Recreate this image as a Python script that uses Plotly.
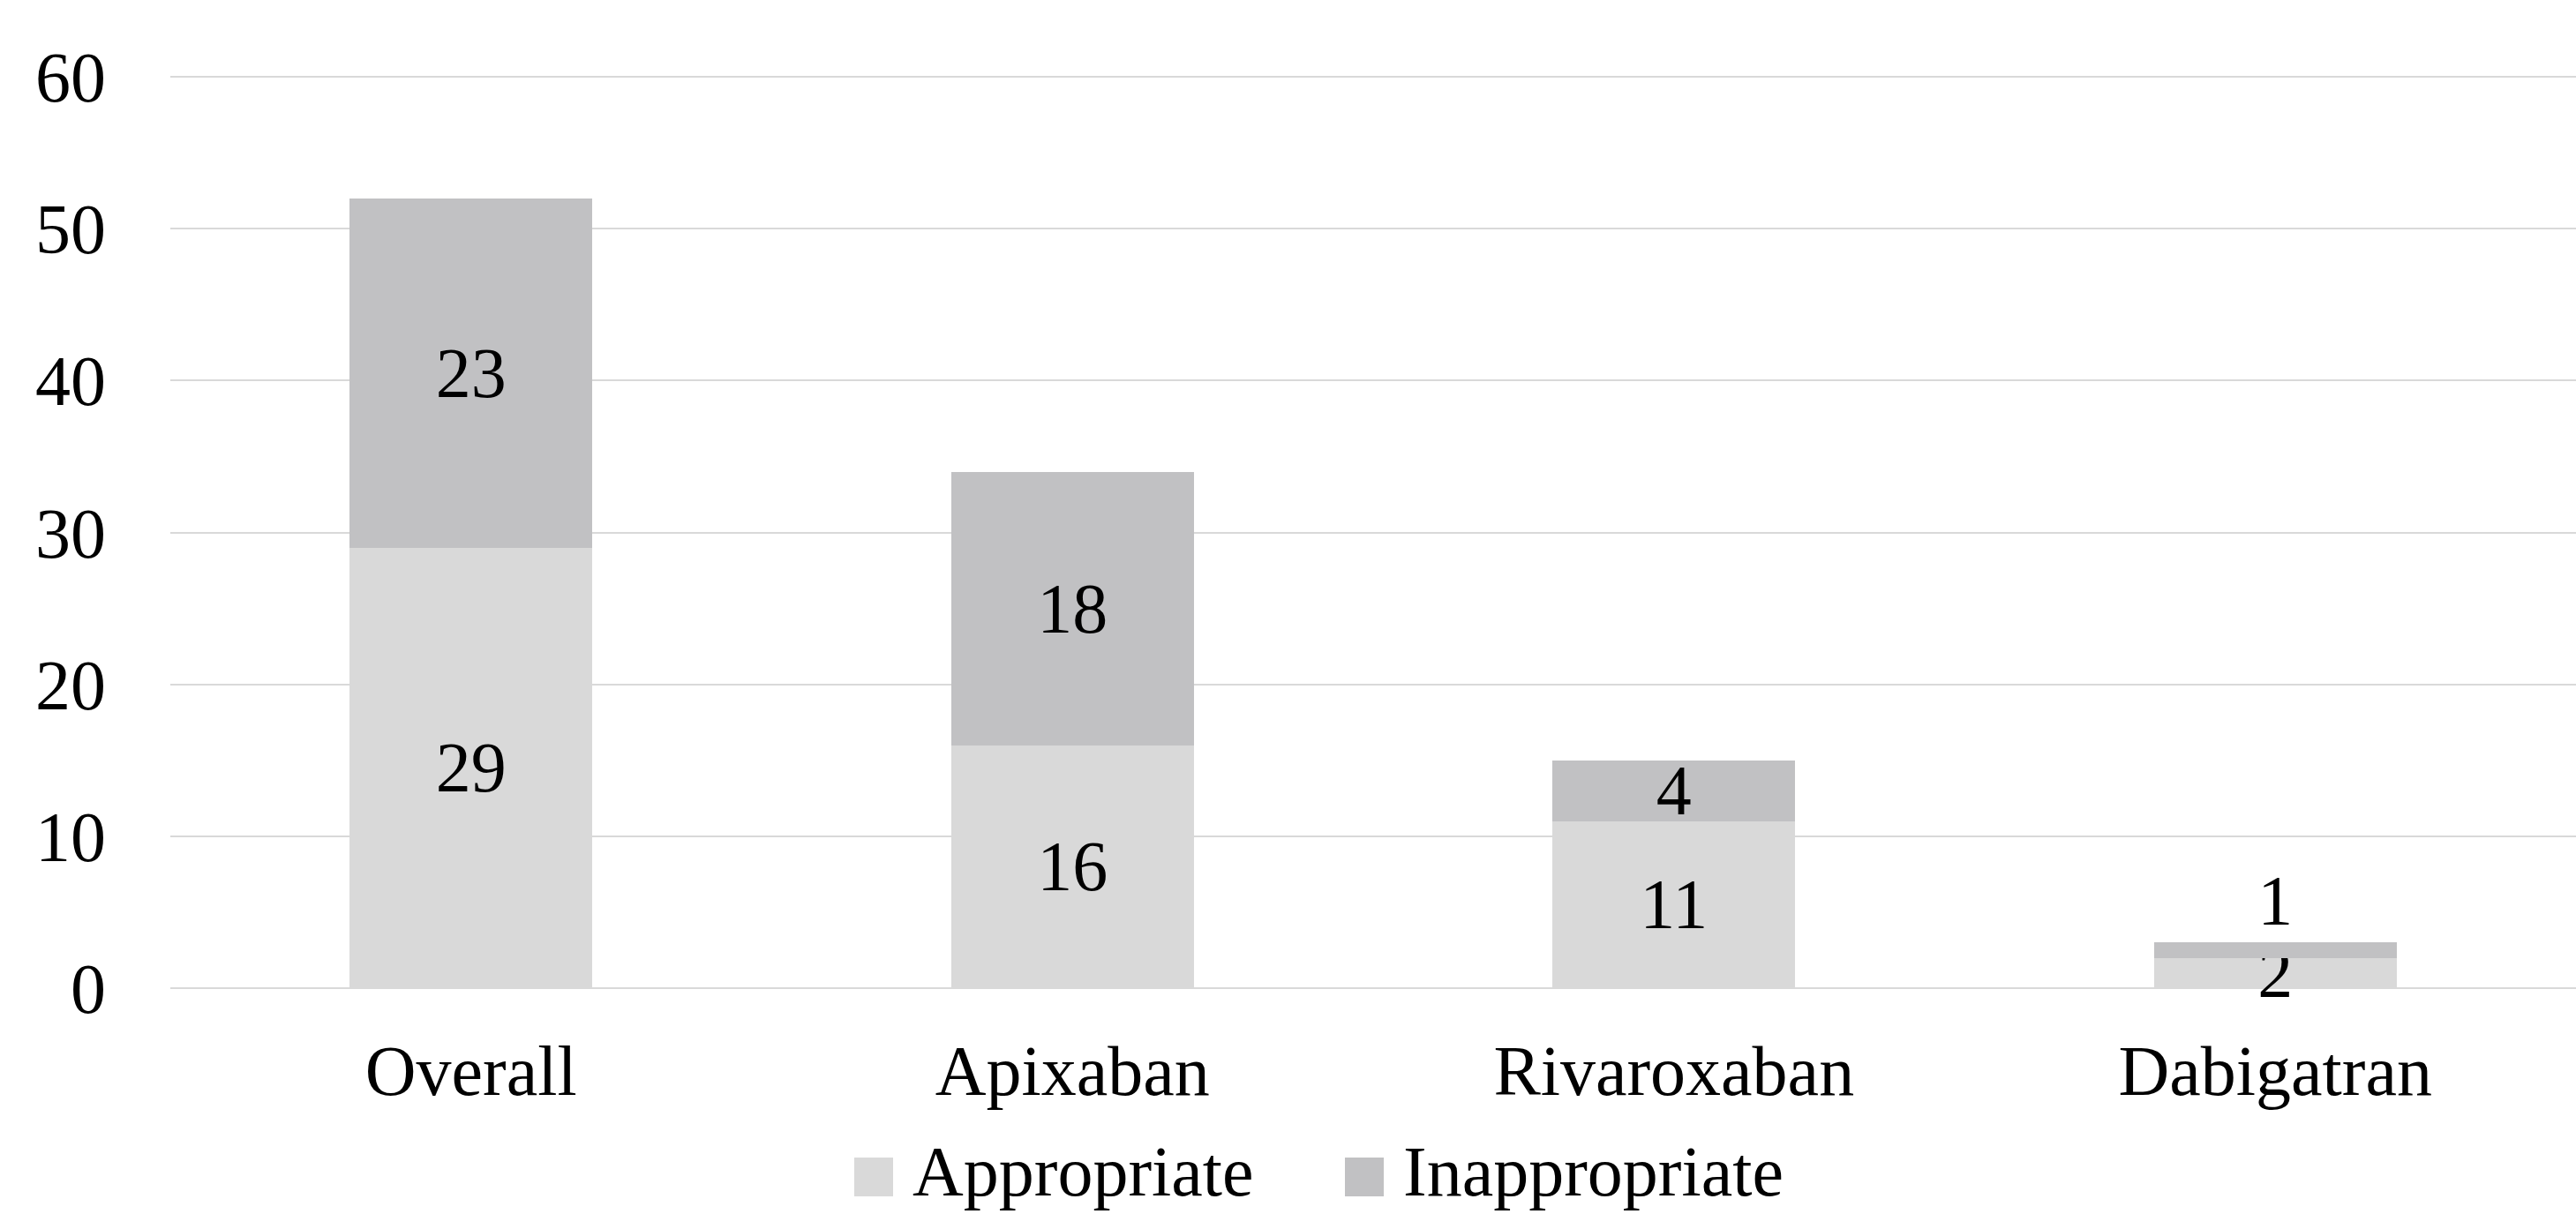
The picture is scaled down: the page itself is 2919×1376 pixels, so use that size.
import plotly.graph_objects as go

# Anticoagulant prescribing counts by drug
categories = ["Overall", "Apixaban", "Rivaroxaban", "Dabigatran"]
appropriate = [29, 16, 11, 2]
inappropriate = [23, 18, 4, 1]
series_names = ["Appropriate", "Inappropriate"]
y_ticks = [0, 10, 20, 30, 40, 50, 60]

FONT = "Liberation Serif"
FS = 80
APPROP_COLOR = "#D9D9D9"
INAPPROP_COLOR = "#C1C1C3"
GRID_COLOR = "#D9D9D9"

W, H = 2919, 1376
# plot-area box in pixels
L, R, T, B = 193, 2919, 82, 1120


def px_x(p):
    return (p - L) / (R - L)


def px_y(p):
    return (B - p) / (B - T)


fig = go.Figure()
fig.add_trace(go.Bar(
    name=series_names[0],
    x=categories,
    y=appropriate,
    marker=dict(color=APPROP_COLOR, line=dict(width=0)),
    text=[str(v) for v in appropriate],
    textposition="inside",
    insidetextanchor="middle",
    textangle=0,
    textfont=dict(family=FONT, size=FS, color="black"),
    constraintext="none",
    cliponaxis=False,
))
fig.add_trace(go.Bar(
    name=series_names[1],
    x=categories,
    y=inappropriate,
    marker=dict(color=INAPPROP_COLOR, line=dict(width=0)),
    text=[str(v) for v in inappropriate],
    textposition=["inside", "inside", "inside", "outside"],
    insidetextanchor="middle",
    textangle=0,
    textfont=dict(family=FONT, size=FS, color="black"),
    constraintext="none",
    cliponaxis=False,
))

# legend drawn as square swatches + labels below the axis
legend_items = [
    (series_names[0], APPROP_COLOR, 968, 1032),
    (series_names[1], INAPPROP_COLOR, 1524, 1588),
]
LEG_MID = 1332
shapes = []
annotations = []
for name, color, sx, tx in legend_items:
    shapes.append(dict(
        type="rect", xref="paper", yref="paper",
        x0=px_x(sx), x1=px_x(sx + 44),
        y0=px_y(LEG_MID + 24), y1=px_y(LEG_MID - 20),
        fillcolor=color, line=dict(width=0),
    ))
    annotations.append(dict(
        text=name, xref="paper", yref="paper",
        x=px_x(tx), y=px_y(LEG_MID - 4),
        xanchor="left", yanchor="middle",
        showarrow=False,
        font=dict(family=FONT, size=FS, color="black"),
    ))

fig.update_layout(
    width=W,
    height=H,
    barmode="stack",
    bargap=0.597,
    plot_bgcolor="white",
    paper_bgcolor="white",
    margin=dict(l=L, r=W - R, t=T, b=H - B, pad=0, autoexpand=False),
    font=dict(family=FONT, size=FS, color="black"),
    uniformtext=dict(minsize=FS, mode="show"),
    showlegend=False,
    shapes=shapes,
    annotations=annotations,
    xaxis=dict(
        showgrid=False,
        showline=False,
        ticks="",
        automargin=False,
        tickfont=dict(family=FONT, size=FS, color="black"),
        ticklabelstandoff=40,
    ),
    yaxis=dict(
        range=[0, 60.3],
        tickvals=y_ticks,
        showgrid=True,
        gridcolor=GRID_COLOR,
        gridwidth=2,
        zeroline=True,
        zerolinecolor=GRID_COLOR,
        zerolinewidth=2,
        showline=False,
        ticks="",
        automargin=False,
        tickfont=dict(family=FONT, size=FS, color="black"),
        ticklabelstandoff=72,
    ),
)

fig.write_html("out.html")
